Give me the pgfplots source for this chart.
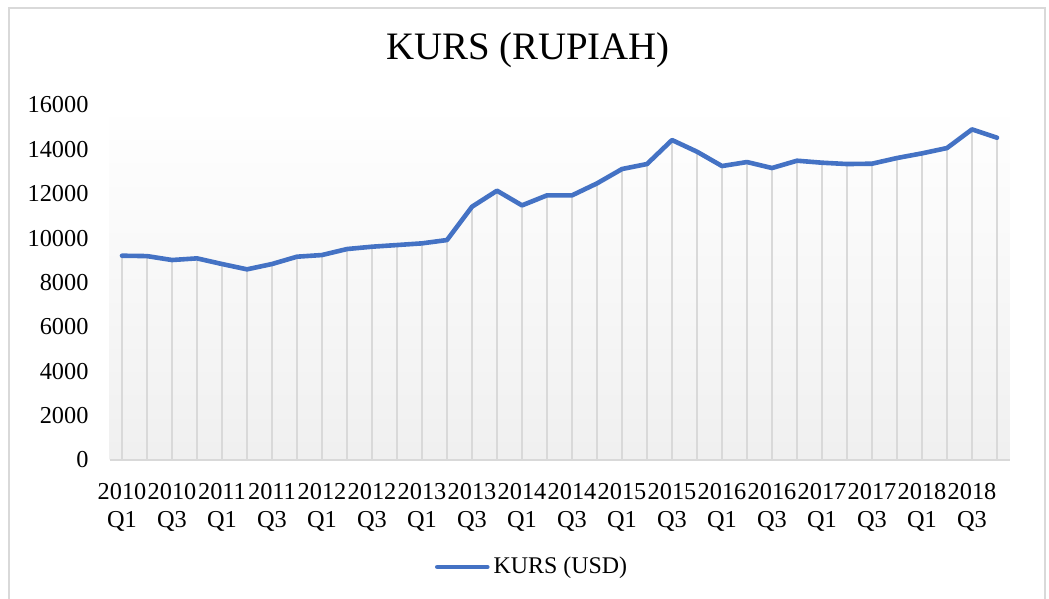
\documentclass[border=0pt]{standalone}
\usepackage{pgfplots}
\pgfplotsset{compat=1.18}
\usepackage{fontspec}
\setmainfont{Liberation Serif}
\definecolor{kursblue}{HTML}{4472C4}
\definecolor{dropgray}{HTML}{D9D9D9}

\begin{document}
\begin{tikzpicture}
  \begin{axis}[
    at={(54.75bp,69.5bp)}, anchor=south west,
    scale only axis,
    width=450bp, height=177.5bp,
    xmin=-0.5, xmax=35.5,
    ymin=0, ymax=16000,
    ytick={0,2000,...,16000},
    xtick={0,2,...,34},
    xticklabels={{2010\\Q1},{2010\\Q3},{2011\\Q1},{2011\\Q3},{2012\\Q1},{2012\\Q3},
      {2013\\Q1},{2013\\Q3},{2014\\Q1},{2014\\Q3},{2015\\Q1},{2015\\Q3},
      {2016\\Q1},{2016\\Q3},{2017\\Q1},{2017\\Q3},{2018\\Q1},{2018\\Q3}},
    xticklabel style={align=center, font=\fontsize{12.2}{14}\selectfont, yshift=-8bp},
    yticklabel style={font=\fontsize{12.2}{14}\selectfont, xshift=-7bp},
    /pgf/number format/assume math mode=true,
    /pgf/number format/1000 sep={},
    scaled y ticks=false,
    major tick length=0pt,
    axis lines*=left,
    y axis line style={draw=none},
    x axis line style={draw=dropgray, line width=0.75bp},
    axis background/.style={top color=white, bottom color=black!6},
    title={KURS (RUPIAH)},
    title style={at={(0.465,1.12)}, anchor=center, font=\fontsize{19.5}{23}\selectfont},
    legend style={at={(0.4706,-0.3014)}, anchor=center, draw=none, fill=none,
      font=\fontsize{12}{14}\selectfont},
    legend image code/.code={\draw[#1] (0bp,0bp) -- (25bp,0bp);},
  ]
    \addplot[ycomb, dropgray, line width=0.75bp, forget plot] coordinates {
      (0,9207) (1,9190) (2,9013) (3,9088) (4,8833) (5,8593) (6,8833) (7,9163)
      (8,9238) (9,9508) (10,9613) (11,9688) (12,9764) (13,9914) (14,11416) (15,12137)
      (16,11476) (17,11927) (18,11927) (19,12467) (20,13114) (21,13339) (22,14421) (23,13895)
      (24,13249) (25,13429) (26,13159) (27,13489) (28,13399) (29,13339) (30,13354) (31,13610)
      (32,13820) (33,14060) (34,14901) (35,14525)
    };
    \addplot[kursblue, line width=2.3bp, line cap=round, line join=round] coordinates {
      (0,9207) (1,9190) (2,9013) (3,9088) (4,8833) (5,8593) (6,8833) (7,9163)
      (8,9238) (9,9508) (10,9613) (11,9688) (12,9764) (13,9914) (14,11416) (15,12137)
      (16,11476) (17,11927) (18,11927) (19,12467) (20,13114) (21,13339) (22,14421) (23,13895)
      (24,13249) (25,13429) (26,13159) (27,13489) (28,13399) (29,13339) (30,13354) (31,13610)
      (32,13820) (33,14060) (34,14901) (35,14525)
    };
    \legend{KURS (USD)}
  \end{axis}
  \draw[black!15, line width=0.75bp] (4.5bp,-5bp) rectangle (522.5bp,295.5bp);
  \pgfresetboundingbox
  \useasboundingbox (0,0) rectangle (524.5bp,299.5bp);
\end{tikzpicture}
\end{document}
